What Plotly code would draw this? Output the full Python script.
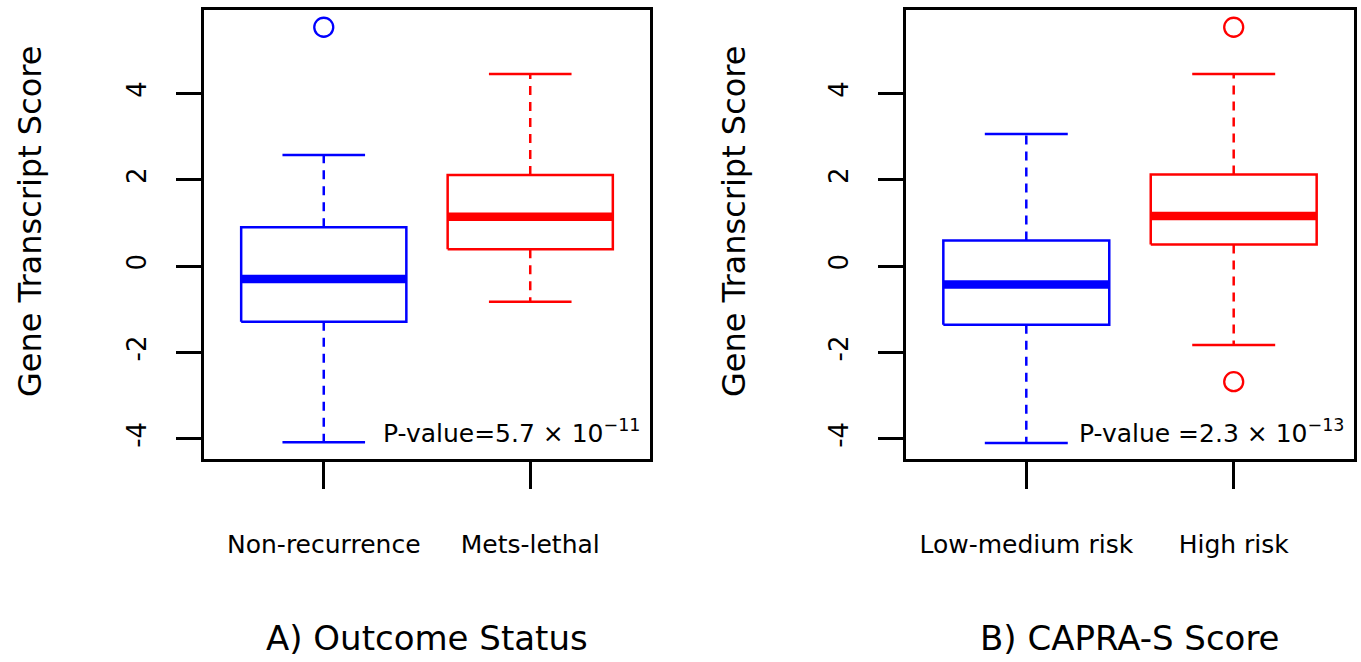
import plotly.graph_objects as go

# ---------------- data ----------------
groups_A = ["Non-recurrence", "Mets-lethal"]
lower_A = [-4.08, -0.83]
q1_A = [-1.29, 0.39]
median_A = [-0.30, 1.14]
q3_A = [0.90, 2.11]
upper_A = [2.57, 4.45]
outliers_A = [[5.53], []]

groups_B = ["Low-medium risk", "High risk"]
lower_B = [-4.10, -1.83]
q1_B = [-1.36, 0.50]
median_B = [-0.43, 1.16]
q3_B = [0.59, 2.12]
upper_B = [3.06, 4.45]
outliers_B = [[], [5.53, -2.68]]

colors = ["#0000FF", "#FF0000"]
y_ticks = [-4, -2, 0, 2, 4]
y_ticktext = ["-4", "-2", "0", "2", "4"]
pvalue_A = "P-value=5.7 × 10<sup>−11</sup>"
pvalue_B = "P-value =2.3 × 10<sup>−13</sup>"
title_A = "A) Outcome Status"
title_B = "B) CAPRA-S Score"
y_title = "Gene Transcript Score"

FONT = "DejaVu Sans"
BOX_HALF = 0.4
CAP_HALF = 0.2

fig = go.Figure()


def add_panel(xa, ya, lower, q1, med, q3, upper, outl):
    for i in range(len(med)):
        x = i + 1
        c = colors[i]
        common = dict(xaxis=xa, yaxis=ya, mode="lines", hoverinfo="skip", showlegend=False)
        # box
        fig.add_trace(go.Scatter(
            x=[x - BOX_HALF, x + BOX_HALF, x + BOX_HALF, x - BOX_HALF, x - BOX_HALF],
            y=[q1[i], q1[i], q3[i], q3[i], q1[i]],
            line=dict(color=c, width=2.5), **common))
        # median
        fig.add_trace(go.Scatter(
            x=[x - BOX_HALF, x + BOX_HALF], y=[med[i], med[i]],
            line=dict(color=c, width=8.5), **common))
        # whiskers (dashed)
        fig.add_trace(go.Scatter(
            x=[x, x], y=[q3[i], upper[i]],
            line=dict(color=c, width=2.5, dash="9px,7px"), **common))
        fig.add_trace(go.Scatter(
            x=[x, x], y=[q1[i], lower[i]],
            line=dict(color=c, width=2.5, dash="9px,7px"), **common))
        # caps
        fig.add_trace(go.Scatter(
            x=[x - CAP_HALF, x + CAP_HALF], y=[upper[i], upper[i]],
            line=dict(color=c, width=2.5), **common))
        fig.add_trace(go.Scatter(
            x=[x - CAP_HALF, x + CAP_HALF], y=[lower[i], lower[i]],
            line=dict(color=c, width=2.5), **common))
        # outliers
        if outl[i]:
            fig.add_trace(go.Scatter(
                x=[x] * len(outl[i]), y=outl[i], mode="markers",
                marker=dict(symbol="circle-open", size=19, color=c, line=dict(width=2.3, color=c)),
                xaxis=xa, yaxis=ya, hoverinfo="skip", showlegend=False))


add_panel("x", "y", lower_A, q1_A, median_A, q3_A, upper_A, outliers_A)
add_panel("x2", "y2", lower_B, q1_B, median_B, q3_B, upper_B, outliers_B)

W, H = 1361, 662
dom_y = [1 - 459 / H, 1 - 10 / H]
dom_A = [204 / W, 650 / W]
dom_B = [906 / W, 1354 / W]

xaxis_common = dict(
    range=[0.42, 2.58], tickvals=[1, 2], showgrid=False, zeroline=False,
    showline=True, mirror=True, linecolor="black", linewidth=2.5,
    ticks="outside", ticklen=27, tickwidth=2.5, tickcolor="black",
    tickfont=dict(family=FONT, size=25, color="black"), ticklabelstandoff=34,
    fixedrange=True,
)
yaxis_common = dict(
    range=[-4.47, 5.93], tickvals=y_ticks, ticktext=y_ticktext, showgrid=False, zeroline=False,
    showline=True, mirror=True, linecolor="black", linewidth=2.5,
    ticks="outside", ticklen=25, tickwidth=2.5, tickcolor="black", tickangle=-90,
    tickfont=dict(family=FONT, size=26, color="black"), ticklabelstandoff=20,
    domain=dom_y, fixedrange=True,
)

fig.update_layout(
    width=W, height=H,
    margin=dict(l=0, r=0, t=0, b=0),
    paper_bgcolor="white", plot_bgcolor="white",
    font=dict(family=FONT, color="black"),
    xaxis=dict(domain=dom_A, ticktext=groups_A, anchor="y", **xaxis_common),
    yaxis=dict(anchor="x", **yaxis_common),
    xaxis2=dict(domain=dom_B, ticktext=groups_B, anchor="y2", **xaxis_common),
    yaxis2=dict(anchor="x2", **yaxis_common),
    annotations=[
        dict(text=pvalue_A, x=2.54, y=-3.84, xref="x", yref="y", xanchor="right", yanchor="middle",
             showarrow=False, font=dict(family=FONT, size=25, color="black")),
        dict(text=pvalue_B, x=2.54, y=-3.84, xref="x2", yref="y2", xanchor="right", yanchor="middle",
             showarrow=False, font=dict(family=FONT, size=25, color="black")),
        dict(text=title_A, x=(dom_A[0] + dom_A[1]) / 2, y=1 - 638 / H, xref="paper", yref="paper",
             xanchor="center", yanchor="middle", showarrow=False,
             font=dict(family=FONT, size=34, color="black")),
        dict(text=title_B, x=(dom_B[0] + dom_B[1]) / 2, y=1 - 638 / H, xref="paper", yref="paper",
             xanchor="center", yanchor="middle", showarrow=False,
             font=dict(family=FONT, size=34, color="black")),
        dict(text=y_title, x=30 / W, y=1 - 222 / H, xref="paper", yref="paper",
             xanchor="center", yanchor="middle", textangle=-90, showarrow=False,
             font=dict(family=FONT, size=32, color="black")),
        dict(text=y_title, x=734 / W, y=1 - 222 / H, xref="paper", yref="paper",
             xanchor="center", yanchor="middle", textangle=-90, showarrow=False,
             font=dict(family=FONT, size=32, color="black")),
    ],
)

fig.write_html(
    "out.html",
    config={"displayModeBar": False},
    post_script="document.body.style.margin='0';document.body.style.padding='0';",
)
